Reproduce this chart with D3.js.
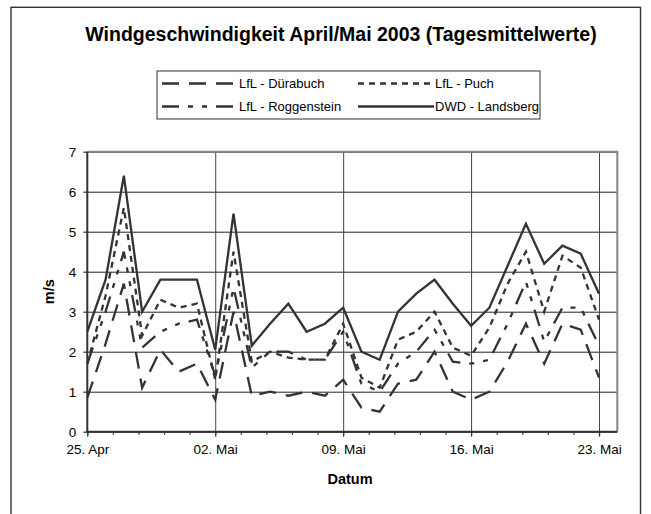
<!DOCTYPE html>
<html lang="de">
<head>
<meta charset="UTF-8">
<title>Windgeschwindigkeit April/Mai 2003</title>
<script src="https://d3js.org/d3.v7.min.js"></script>
<style>
  body { margin: 0; background: #fff; }
  svg { display: block; font-family: "Liberation Sans", Arial, sans-serif; }
</style>
</head>
<body>
<div id="chart"></div>
<script>
// daily means, 25 Apr .. 23 Mai 2003 (m/s)
const duerabuch   = [0.85, 2.2, 3.7, 1.1, 2.05, 1.5, 1.7, 0.8, 3.0, 0.9, 1.0, 0.9, 1.0, 0.9, 1.3, 0.6, 0.5, 1.2, 1.3, 2.0, 1.0, 0.8, 1.0, 1.75, 2.7, 1.7, 2.7, 2.55, 1.35];
const puch        = [1.7, 3.4, 5.6, 2.4, 3.3, 3.1, 3.2, 1.3, 4.5, 1.75, 2.0, 1.85, 1.8, 1.8, 2.7, 1.35, 1.1, 2.3, 2.5, 3.0, 2.1, 1.9, 2.6, 3.7, 4.5, 3.0, 4.4, 4.1, 2.8];
const roggenstein = [1.7, 3.0, 4.5, 2.1, 2.5, 2.7, 2.8, 1.4, 3.6, 1.6, 2.0, 2.0, 1.8, 1.8, 2.5, 1.2, 1.0, 1.7, 2.0, 2.55, 1.75, 1.7, 1.8, 2.7, 3.75, 2.25, 3.1, 3.1, 2.15];
const landsberg   = [2.5, 3.8, 6.4, 3.0, 3.8, 3.8, 3.8, 2.05, 5.45, 2.15, 2.7, 3.2, 2.5, 2.7, 3.1, 2.0, 1.8, 3.0, 3.45, 3.8, 3.2, 2.65, 3.1, 4.15, 5.2, 4.2, 4.65, 4.45, 3.45];

const seriesNames = ["LfL - Dürabuch", "LfL - Puch", "LfL - Roggenstein", "DWD - Landsberg"];
const tickLabels  = ["25. Apr", "02. Mai", "09. Mai", "16. Mai", "23. Mai"];

const startDay = new Date(Date.UTC(2003, 3, 25));
const endDay   = new Date(Date.UTC(2003, 4, 24));
const days = d3.utcDay.range(startDay, d3.utcDay.offset(startDay, landsberg.length));
const majorDays = d3.utcDay.every(7).range ? d3.range(0, 29, 7).map(k => d3.utcDay.offset(startDay, k)) : [];
const minorDays = d3.range(0, 29.01, 1.4).map(k => new Date(startDay.getTime() + k * 864e5));

const W = 651, H = 514;
const margin = {top: 151.7, left: 87.3};
const width = 530, height = 280;

const svg = d3.select("#chart").append("svg")
    .attr("width", W).attr("height", H);

// outer chart frame
svg.append("rect")
    .attr("x", 11).attr("y", 7.3)
    .attr("width", 629.5).attr("height", 520)
    .attr("fill", "none").attr("stroke", "#333").attr("stroke-width", 1.4);

svg.append("text")
    .attr("x", 341).attr("y", 41)
    .attr("text-anchor", "middle")
    .style("font-size", "19.5px").style("font-weight", "bold")
    .text("Windgeschwindigkeit April/Mai 2003 (Tagesmittelwerte)");

const g = svg.append("g").attr("transform", `translate(${margin.left},${margin.top})`);

const x = d3.scaleUtc().domain([startDay, endDay]).range([0, width]);
const y = d3.scaleLinear().domain([0, 7]).range([height, 0]);

// horizontal gridlines
g.append("g")
    .call(d3.axisLeft(y).ticks(7).tickSize(-width).tickFormat(""))
    .call(s => s.select(".domain").remove())
    .call(s => s.selectAll("line").attr("stroke", "#222").attr("stroke-width", 1));

// vertical gridlines at weekly ticks
g.append("g")
    .attr("transform", `translate(0,${height})`)
    .call(d3.axisBottom(x).tickValues(majorDays.slice(1)).tickSize(-height).tickFormat(""))
    .call(s => s.select(".domain").remove())
    .call(s => s.selectAll("line").attr("stroke", "#444").attr("stroke-width", 1));

// plot border top / right
g.append("path")
    .attr("d", `M0,0H${width}V${height}`)
    .attr("fill", "none").attr("stroke", "#888").attr("stroke-width", 2);

// series lines
const line = d3.line().x((d, i) => x(days[i])).y(d => y(d));
const seriesData = [duerabuch, puch, roggenstein, landsberg];
const dashes = ["17,10", "6,5", "17,9,5,9,5,9", null];

seriesData.forEach((vals, k) => {
    g.append("path")
        .datum(vals)
        .attr("d", line)
        .attr("fill", "none")
        .attr("stroke", "#333")
        .attr("stroke-width", 2.3)
        .attr("stroke-linejoin", "miter")
        .attr("stroke-dasharray", dashes[k]);
});

// y axis
const yAxis = g.append("g")
    .call(d3.axisLeft(y).ticks(7).tickSize(4).tickPadding(7));
yAxis.select(".domain").attr("stroke", "#333").attr("stroke-width", 2).attr("d", `M0,${height + 1}V0`);
yAxis.selectAll("line").attr("stroke", "#333").attr("stroke-width", 1.2);
yAxis.selectAll("text").style("font-size", "13.5px").attr("fill", "#000")
    .attr("font-family", "Liberation Sans, Arial, sans-serif");

// x axis with minor ticks
const xMinor = g.append("g")
    .attr("transform", `translate(0,${height})`)
    .call(d3.axisBottom(x).tickValues(minorDays).tickSize(3).tickFormat(""));
xMinor.select(".domain").remove();
xMinor.selectAll("line").attr("stroke", "#333").attr("stroke-width", 1.2);

const xAxis = g.append("g")
    .attr("transform", `translate(0,${height})`)
    .call(d3.axisBottom(x).tickValues(majorDays).tickSize(5).tickPadding(8)
        .tickFormat((d, i) => tickLabels[i]));
xAxis.select(".domain").attr("stroke", "#333").attr("stroke-width", 2).attr("d", `M-1,0H${width}`);
xAxis.selectAll("line").attr("stroke", "#333").attr("stroke-width", 1.2);
xAxis.selectAll("text").style("font-size", "13.5px").attr("fill", "#000")
    .attr("font-family", "Liberation Sans, Arial, sans-serif");

// axis titles
svg.append("text")
    .attr("x", 350).attr("y", 484)
    .attr("text-anchor", "middle")
    .style("font-size", "14.5px").style("font-weight", "bold")
    .text("Datum");

svg.append("text")
    .attr("transform", `translate(54,${margin.top + height / 2}) rotate(-90)`)
    .attr("text-anchor", "middle")
    .style("font-size", "14.5px").style("font-weight", "bold")
    .text("m/s");

// legend
const legend = svg.append("g");
legend.append("rect")
    .attr("x", 157).attr("y", 71)
    .attr("width", 383).attr("height", 48)
    .attr("fill", "#fff").attr("stroke", "#333").attr("stroke-width", 1);

const legPos = [[162, 83.5], [358, 83.5], [162, 106.5], [358, 106.5]];
seriesNames.forEach((name, k) => {
    const [lx, ly] = legPos[k];
    legend.append("line")
        .attr("x1", lx).attr("x2", lx + 76)
        .attr("y1", ly).attr("y2", ly)
        .attr("stroke", "#333").attr("stroke-width", 2.3)
        .attr("stroke-dasharray", dashes[k]);
    legend.append("text")
        .attr("x", lx + 77).attr("y", ly + 4.7)
        .style("font-size", "13px")
        .text(name);
});
</script>
</body>
</html>
